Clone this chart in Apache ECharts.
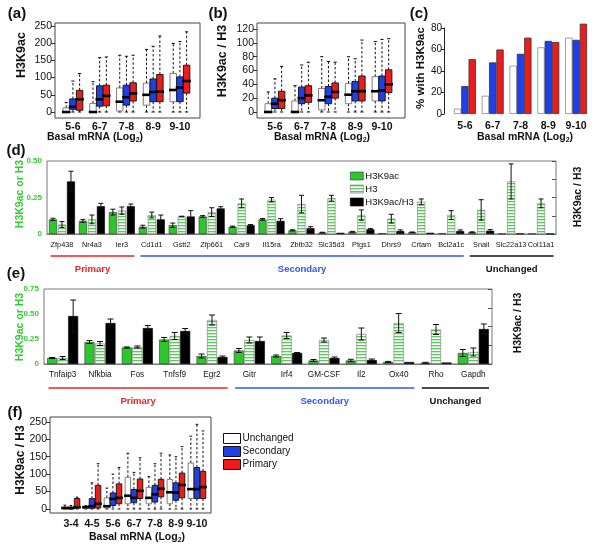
<!DOCTYPE html>
<html><head><meta charset="utf-8">
<script src="https://cdn.jsdelivr.net/npm/echarts@6/dist/echarts.min.js"></script>
<style>html,body{margin:0;padding:0;background:#fff}#c{width:600px;height:551px}</style>
</head><body><div id="c"></div>
<script>
// ---------------- DATA ----------------
const binsAB = ['5-6', '6-7', '7-8', '8-9', '9-10'];
const binsF = ['3-4', '4-5', '5-6', '6-7', '7-8', '8-9', '9-10'];
const groupNames = ['Unchanged', 'Secondary', 'Primary'];

// box stats: [min, q1, median, q3, max]
const a_unchanged = [[0,0,0,12,28],[0,0,0,25,88],[0,3,30,70,165],[0,20,50,84,182],[0,30,64,112,199]];
const a_secondary = [[0,8,15,38,90],[0,17,37,76,158],[0,20,43,78,162],[0,30,58,96,191],[0,30,71,102,205]];
const a_primary   = [[0,5,37,63,112],[0,18,47,78,160],[0,32,54,85,165],[0,30,59,109,221],[0,55,90,136,233]];

const b_unchanged = [[0,0,0,12,29],[0,0,0,16,38],[0,3,17,34,80],[0,12,25,41,80],[0,16,30,51,102]];
const b_secondary = [[0,5,12,20,48],[0,12,20,36,68],[0,12,22,37,73],[0,16,30,44,77],[0,16,31,52,105]];
const b_primary   = [[0,5,17,30,66],[0,14,24,38,72],[0,20,29,42,72],[0,16,30,52,104],[0,28,40,61,106]];

const c_unchanged = [5, 17, 45, 62, 71];
const c_secondary = [26, 48, 56, 68, 69];
const c_primary   = [51, 60, 71, 67, 84];

const genesD = ['Zfp438','Nr4a3','Ier3','Cd1d1','Gstt2','Zfp661','Car9','Il15ra','Zbtb32','Slc35d3','Ptgs1','Dhrs9','Crtam','Bcl2a1c','Snail','Slc22a13','Col11a1'];
const groupD = ['Primary','Primary','Primary','Secondary','Secondary','Secondary','Secondary','Secondary','Secondary','Secondary','Secondary','Secondary','Secondary','Secondary','Unchanged','Unchanged','Unchanged'];
const d_ac       = [0.10,0.09,0.15,0.05,0.06,0.12,0.05,0.10,0.025,0.01,0.015,0.006,0.012,0.006,0.012,0.003,0.002];
const d_acErr    = [0.008,0.01,0.02,0.01,0.015,0.006,0.004,0.006,0.004,0.002,0.003,0,0.002,0,0.003,0,0];
const d_h3       = [0.065,0.10,0.16,0.13,0.12,0.15,0.21,0.235,0.205,0.245,0.13,0.105,0.22,0.13,0.165,0.36,0.21];
const d_h3Err    = [0.02,0.03,0.025,0.02,0.002,0.03,0.03,0.015,0.06,0.02,0.035,0.03,0.02,0.03,0.07,0.12,0.03];
const d_ratio    = [0.36,0.19,0.19,0.10,0.12,0.175,0.06,0.09,0.04,0.008,0.032,0.02,0.008,0.02,0.022,0.003,0.002];
const d_ratioErr = [0.07,0.02,0.015,0.03,0.04,0.012,0.005,0.015,0.01,0,0.005,0.008,0,0.008,0.008,0,0];

const genesE = ['Tnfaip3','Nfkbia','Fos','Tnfsf9','Egr2','Gitr','Irf4','GM-CSF','Il2','Ox40','Rho','Gapdh'];
const groupE = ['Primary','Primary','Primary','Primary','Primary','Secondary','Secondary','Secondary','Secondary','Secondary','Unchanged','Unchanged'];
const e_ac       = [0.06,0.22,0.165,0.245,0.08,0.135,0.08,0.035,0.035,0.02,0.012,0.11];
const e_acErr    = [0.005,0.015,0.006,0.02,0.02,0.02,0.01,0.01,0.012,0.006,0.005,0.035];
const e_h3       = [0.06,0.205,0.17,0.28,0.44,0.24,0.285,0.24,0.30,0.41,0.345,0.12];
const e_h3Err    = [0.015,0.02,0.01,0.035,0.05,0.03,0.03,0.02,0.06,0.095,0.05,0.04];
const e_ratio    = [0.48,0.41,0.36,0.33,0.07,0.23,0.11,0.06,0.04,0.02,0.015,0.35];
const e_ratioErr = [0.16,0.04,0.025,0.025,0.01,0.04,0.005,0.01,0.01,0,0,0.05];

const f_unchanged = [[0,0,3,3,11],[0,2,5,8,10],[0,3,8,32,60],[0,15,38,91,160],[0,15,32,62,93],[0,15,48,85,155],[0,30,57,132,209]];
const f_secondary = [[0,0,3,3,10],[0,2,8,30,75],[0,10,29,46,100],[0,18,32,56,105],[0,20,42,68,130],[0,25,47,75,150],[0,30,57,119,243]];
const f_primary   = [[0,3,5,30,34],[0,3,15,68,130],[0,15,32,72,119],[0,30,52,86,147],[0,35,58,85,160],[0,32,69,103,179],[0,30,63,108,224]];

// ---------------- STYLE ----------------
const FONT = '"Liberation Sans", Arial, Helvetica, sans-serif';
const BOX_FILL = ['#ffffff', '#1f3fea', '#ee1b1b'];
const BOX_LINE = ['#808080', '#1a1a1a', '#1a1a1a'];
const GREEN = '#2cc72c';
const GREEN_TXT = '#33cc33';
const GROUP_COL = {Primary: '#ee2222', Secondary: '#3355ee', Unchanged: '#111111'};

function stripeCanvas() {
  const c = document.createElement('canvas');
  c.width = 4; c.height = 3;
  const g = c.getContext('2d');
  g.fillStyle = '#ffffff'; g.fillRect(0, 0, 4, 3);
  g.fillStyle = '#5cc95c'; g.fillRect(0, 0, 4, 1);
  g.fillStyle = '#c9efc9'; g.fillRect(0, 1, 4, 1);
  return c;
}
const STRIPE = {image: stripeCanvas(), repeat: 'repeat'};

function boxRenderer(k, offU, widthU) {
  return function (params, api) {
    const x = api.value(0) + (k - 1) * offU;
    const pMin = api.coord([x, api.value(1)]);
    const pQ1 = api.coord([x, api.value(2)]);
    const pMed = api.coord([x, api.value(3)]);
    const pQ3 = api.coord([x, api.value(4)]);
    const pMax = api.coord([x, api.value(5)]);
    const hw = api.size([widthU, 0])[0] / 2;
    const cx = pMed[0];
    const dash = {stroke: '#111', lineWidth: 1, lineDash: [2.5, 2]};
    const solid = {stroke: '#111', lineWidth: 1};
    return {type: 'group', children: [
      {type: 'line', shape: {x1: cx, y1: pQ3[1], x2: cx, y2: pMax[1]}, style: dash},
      {type: 'line', shape: {x1: cx, y1: pQ1[1], x2: cx, y2: pMin[1]}, style: dash},
      {type: 'line', shape: {x1: cx - hw / 2, y1: pMax[1], x2: cx + hw / 2, y2: pMax[1]}, style: solid},
      {type: 'line', shape: {x1: cx - hw / 2, y1: pMin[1], x2: cx + hw / 2, y2: pMin[1]}, style: solid},
      {type: 'rect', shape: {x: cx - hw, y: pQ3[1], width: 2 * hw, height: Math.max(pQ1[1] - pQ3[1], 0)},
        style: {fill: BOX_FILL[k], stroke: BOX_LINE[k], lineWidth: 1}},
      {type: 'line', shape: {x1: cx - hw - 1, y1: pMed[1], x2: cx + hw + 1, y2: pMed[1]}, style: {stroke: '#000', lineWidth: 2.6}}
    ]};
  };
}

function errRenderer(k, offPx, capPx) {
  return function (params, api) {
    const i = api.value(0), v = api.value(1), e = api.value(2);
    if (!e) return {type: 'group', children: []};
    const pt = api.coord([i, v + e]);
    const pb = api.coord([i, Math.max(v - e, 0)]);
    const x = pt[0] + (k - 1) * offPx;
    const st = {stroke: '#111', lineWidth: 1};
    return {type: 'group', children: [
      {type: 'line', shape: {x1: x, y1: pt[1], x2: x, y2: pb[1]}, style: st},
      {type: 'line', shape: {x1: x - capPx, y1: pt[1], x2: x + capPx, y2: pt[1]}, style: st},
      {type: 'line', shape: {x1: x - capPx, y1: pb[1], x2: x + capPx, y2: pb[1]}, style: st}
    ]};
  };
}

const boxData = arr => arr.map((d, i) => [i + 1].concat(d));
const errData = (v, e) => v.map((val, i) => [i, val, e[i]]);

function boxSeries(arrs, axisIdx, offU, widthU) {
  return arrs.map((arr, k) => ({
    type: 'custom', name: groupNames[k], xAxisIndex: axisIdx.x, yAxisIndex: axisIdx.y,
    renderItem: boxRenderer(k, offU, widthU), data: boxData(arr),
    encode: {x: 0, y: [1, 2, 3, 4, 5]},
    itemStyle: {color: BOX_FILL[k], borderColor: BOX_LINE[k]}, z: 3, clip: false
  }));
}

function barGroupSeries(xi, yl, yr, vals, bw, gap, off, cap) {
  const [ac, acE, h3, h3E, r, rE] = vals;
  const s = [
    {type: 'bar', name: 'H3K9ac', xAxisIndex: xi, yAxisIndex: yl, data: ac, barWidth: bw, barGap: gap,
      itemStyle: {color: GREEN, borderColor: '#333', borderWidth: 0.6}},
    {type: 'bar', name: 'H3', xAxisIndex: xi, yAxisIndex: yl, data: h3, barWidth: bw, barGap: gap,
      itemStyle: {color: STRIPE, borderColor: '#777', borderWidth: 0.6}},
    {type: 'bar', name: 'H3K9ac/H3', xAxisIndex: xi, yAxisIndex: yr, data: r, barWidth: bw, barGap: gap,
      itemStyle: {color: '#000', borderColor: '#000', borderWidth: 0.6}}
  ];
  [[ac, acE, yl], [h3, h3E, yl], [r, rE, yr]].forEach(([v, e, y], k) => {
    s.push({type: 'custom', xAxisIndex: xi, yAxisIndex: y, renderItem: errRenderer(k, off, cap),
      data: errData(v, e), encode: {x: 0, y: 1}, z: 5, clip: false});
  });
  return s;
}

const tickLbl = {fontFamily: FONT, fontSize: 10.5, color: '#111'};
const catLbl = {fontFamily: FONT, fontSize: 10.5, fontWeight: 'bold', color: '#111'};
const gridBorder = {show: true, borderColor: '#444', borderWidth: 1, backgroundColor: 'transparent'};

function valueX(idx, min, max, names, margin) {
  const cv = names.map((n, i) => i + 1);
  return {type: 'value', gridIndex: idx, min: min, max: max,
    axisLine: {show: false}, axisTick: {show: false}, splitLine: {show: false},
    axisLabel: Object.assign({customValues: cv, margin: margin,
      formatter: v => names[Math.round(v) - 1] || ''}, catLbl)};
}
function valueY(idx, min, max, ticks) {
  return {type: 'value', gridIndex: idx, min: min, max: max,
    axisLine: {show: false}, splitLine: {show: false},
    axisTick: {show: true, length: 4, customValues: ticks, lineStyle: {color: '#333'}},
    axisLabel: Object.assign({customValues: ticks, margin: 3}, tickLbl)};
}

const greenLbl = {fontFamily: FONT, fontSize: 8, fontWeight: 'bold', color: GREEN_TXT, margin: 5,
  formatter: v => (v === 0 ? '0' : v.toFixed(2))};

const option = {
  animation: false,
  backgroundColor: '#fff',
  textStyle: {fontFamily: FONT},
  grid: [
    Object.assign({left: 55, top: 23, width: 145, height: 95}, gridBorder),
    Object.assign({left: 257, top: 23, width: 148, height: 95}, gridBorder),
    {left: 451, top: 28, width: 139, height: 86},
    Object.assign({left: 47, top: 161, width: 509, height: 73}, gridBorder, {borderColor: '#777'}),
    Object.assign({left: 44, top: 289, width: 448, height: 75}, gridBorder, {borderColor: '#777'}),
    Object.assign({left: 50, top: 417, width: 161, height: 96}, gridBorder)
  ],
  xAxis: [
    valueX(0, 0.33, 5.75, binsAB, 4),
    valueX(1, 0.33, 5.86, binsAB, 4),
    {type: 'category', gridIndex: 2, data: binsAB, axisLine: {show: false}, axisTick: {show: false},
      axisLabel: Object.assign({margin: 7}, catLbl)},
    {type: 'category', gridIndex: 3, data: genesD, axisLine: {show: true, lineStyle: {color: '#777'}}, axisTick: {show: false},
      axisLabel: {interval: 0, fontFamily: FONT, fontSize: 7.3, color: '#111', margin: 7}},
    {type: 'category', gridIndex: 4, data: genesE, axisLine: {show: true, lineStyle: {color: '#777'}}, axisTick: {show: false},
      axisLabel: {interval: 0, fontFamily: FONT, fontSize: 8.2, color: '#111', margin: 7}},
    valueX(5, 0, 7.67, binsF, 6)
  ],
  yAxis: [
    valueY(0, -17.4, 258.7, [0, 50, 100, 150, 200, 250]),
    valueY(1, -8.7, 128.7, [0, 20, 40, 60, 80, 100, 120]),
    {type: 'value', gridIndex: 2, min: 0, max: 80, interval: 20, offset: 7,
      axisLine: {show: true, lineStyle: {color: '#222'}}, axisTick: {show: true, length: 3, lineStyle: {color: '#222'}},
      splitLine: {show: false}, axisLabel: {fontFamily: FONT, fontSize: 10, color: '#111', margin: 2}},
    {type: 'value', gridIndex: 3, min: 0, max: 0.5, interval: 0.25, axisLine: {show: false}, axisTick: {show: false},
      splitLine: {show: false}, axisLabel: greenLbl},
    {type: 'value', gridIndex: 3, position: 'right', min: 0, max: 0.5, interval: 0.125, axisLine: {show: false},
      axisTick: {show: true, inside: true, length: 4, lineStyle: {color: '#555'}}, splitLine: {show: false}, axisLabel: {show: false}},
    {type: 'value', gridIndex: 4, min: 0, max: 0.75, interval: 0.25, axisLine: {show: false}, axisTick: {show: false},
      splitLine: {show: false}, axisLabel: greenLbl},
    {type: 'value', gridIndex: 4, position: 'right', min: 0, max: 0.75, interval: 0.1875, axisLine: {show: false},
      axisTick: {show: true, inside: true, length: 4, lineStyle: {color: '#555'}}, splitLine: {show: false}, axisLabel: {show: false}},
    valueY(5, -11.5, 264, [0, 50, 100, 150, 200, 250])
  ],
  legend: [
    {orient: 'vertical', left: 345, top: 166, itemWidth: 13, itemHeight: 8, itemGap: 3, icon: 'rect',
      textStyle: {fontFamily: FONT, fontSize: 9.5, color: '#111', padding: [0, 0, 0, -3]},
      data: [
        {name: 'H3K9ac', itemStyle: {color: GREEN, borderColor: '#333', borderWidth: 0.6}},
        {name: 'H3', itemStyle: {color: STRIPE, borderColor: '#777', borderWidth: 0.6}},
        {name: 'H3K9ac/H3', itemStyle: {color: '#000', borderColor: '#000', borderWidth: 0.6}}
      ]},
    {orient: 'vertical', left: 218, top: 428, itemWidth: 17, itemHeight: 10, itemGap: 2, icon: 'rect',
      textStyle: {fontFamily: FONT, fontSize: 10, color: '#111', padding: [0, 0, 0, -3]},
      data: groupNames.map((n, k) => ({name: n, itemStyle: {color: BOX_FILL[k], borderColor: '#111', borderWidth: 1}}))}
  ],
  series: [].concat(
    boxSeries([a_unchanged, a_secondary, a_primary], {x: 0, y: 0}, 0.25, 0.24),
    boxSeries([b_unchanged, b_secondary, b_primary], {x: 1, y: 1}, 0.25, 0.24),
    [c_unchanged, c_secondary, c_primary].map((arr, k) => ({
      type: 'bar', name: groupNames[k], xAxisIndex: 2, yAxisIndex: 2, data: arr, barGap: '0%', barCategoryGap: '21%', clip: false,
      itemStyle: {color: BOX_FILL[k], borderColor: k === 0 ? '#888' : '#333', borderWidth: 0.8}})),
    barGroupSeries(3, 3, 4, [d_ac, d_acErr, d_h3, d_h3Err, d_ratio, d_ratioErr], 8, '12.5%', 9, 2.5),
    barGroupSeries(4, 5, 6, [e_ac, e_acErr, e_h3, e_h3Err, e_ratio, e_ratioErr], 10, '5%', 10.5, 3),
    boxSeries([f_unchanged, f_secondary, f_primary], {x: 5, y: 7}, 0.29, 0.26)
  )
};

const chart = echarts.init(document.getElementById('c'), null, {renderer: 'canvas'});
chart.setOption(option);

// --------- annotations (text + group underlines) ---------
const g = [];
function txt(t, x, y, size, opts) {
  opts = opts || {};
  g.push({type: 'text', x: x, y: y, rotation: opts.rot ? Math.PI / 2 : 0,
    style: {text: t, fontFamily: FONT, fontSize: size, fontWeight: opts.weight || 'bold', fill: opts.color || '#111',
      align: 'center', verticalAlign: 'middle', rich: opts.rich}, z: 10});
}
[['(a)', 17, 13.5], ['(b)', 218, 13.5], ['(c)', 419, 13.5], ['(d)', 16, 151], ['(e)', 16, 274], ['(f)', 15, 413]]
  .forEach(([t, x, y]) => txt(t, x, y, 15));

const subRich = {s: {fontSize: 7, fontWeight: 'bold', fontFamily: FONT, padding: [6, 0, 0, 0]}};
const basal = 'Basal mRNA (Log{s|2})';
txt(basal, 95, 137, 10.5, {rich: subRich});
txt(basal, 322, 137, 10.5, {rich: subRich});
txt(basal, 525, 137, 10.5, {rich: subRich});
txt(basal, 137, 537, 10.5, {rich: subRich});

txt('H3K9ac', 22, 55, 12.5, {rot: true});
txt('H3K9ac / H3', 223, 61, 12.5, {rot: true});
txt('% with H3K9ac', 421, 68, 11.5, {rot: true});
txt('H3K9ac or H3', 20, 194, 10.5, {rot: true, color: GREEN_TXT});
txt('H3K9ac / H3', 578, 197, 10.5, {rot: true});
txt('H3K9ac or H3', 20, 327, 10.5, {rot: true, color: GREEN_TXT});
txt('H3K9ac / H3', 518, 323, 10.5, {rot: true});
txt('H3K9ac / H3', 21, 460, 12, {rot: true});

function spans(groups) {
  const out = [];
  groups.forEach((name, i) => {
    const last = out[out.length - 1];
    if (last && last.name === name) last.to = i; else out.push({name: name, from: i, to: i});
  });
  return out;
}
function groupLines(gridIndex, groups, lineOff, labelOff) {
  const p0 = chart.convertToPixel({gridIndex: gridIndex}, [0, 0]);
  const p1 = chart.convertToPixel({gridIndex: gridIndex}, [1, 0]);
  const band = p1[0] - p0[0];
  spans(groups).forEach(s => {
    const a = chart.convertToPixel({gridIndex: gridIndex}, [s.from, 0]);
    const b = chart.convertToPixel({gridIndex: gridIndex}, [s.to, 0]);
    const x1 = a[0] - 0.38 * band, x2 = b[0] + 0.42 * band;
    const col = GROUP_COL[s.name];
    g.push({type: 'line', shape: {x1: x1, y1: a[1] + lineOff, x2: x2, y2: a[1] + lineOff},
      style: {stroke: col, lineWidth: 1.6}, z: 10});
    txt(s.name, (x1 + x2) / 2, a[1] + labelOff, 9.5, {color: col});
  });
}
groupLines(3, groupD, 22, 35);
groupLines(4, groupE, 24, 37);

chart.setOption({graphic: g});
</script>
</body></html>
